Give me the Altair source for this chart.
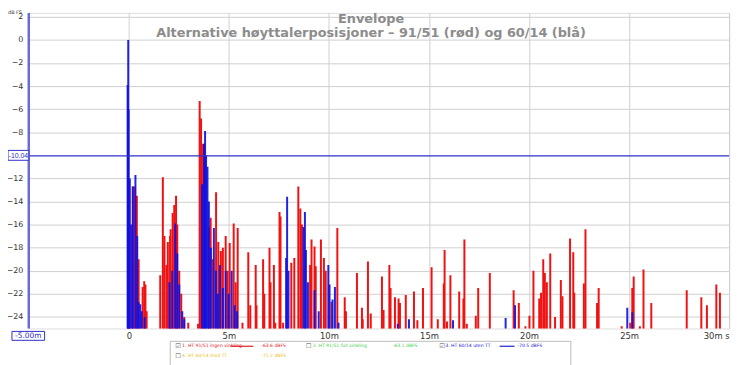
import altair as alt
import pandas as pd

# ---- data (time in ms, level in dB FS) ----
red_t = [-0.02, 0.05, 0.20, 0.30, 0.40, 0.49, 0.69, 0.77, 0.83, 0.89,
         1.57, 1.70, 1.78, 1.88, 1.95, 2.06, 2.09, 2.19, 2.27, 2.36, 2.42, 2.52, 2.62, 2.77, 2.97,
         3.46, 3.54, 3.61, 3.71, 4.00, 4.09, 4.20, 4.36, 4.47, 4.60, 4.70, 4.84, 4.94, 5.04, 5.24,
         5.34, 5.44, 5.68, 5.97, 6.07, 6.34, 6.38, 6.71, 6.77, 7.03, 7.08, 7.25, 7.32, 7.53, 7.58,
         7.71, 8.12, 8.27, 8.47, 8.57, 8.65, 9.06, 9.13, 9.28, 9.34, 9.60, 9.75, 9.84, 10.13, 10.42,
         10.79, 10.85, 11.40, 11.65, 11.69, 11.95, 12.09, 12.65, 12.73, 13.02, 13.08, 13.30, 13.48,
         13.55, 13.84, 14.25, 14.42, 14.70, 15.13, 15.44, 15.74, 15.78, 15.90, 16.07, 16.51, 16.72,
         16.77, 16.89, 17.34, 17.46, 18.04, 19.23, 19.49, 19.82, 20.02, 20.22, 20.51, 20.60, 20.71,
         20.79, 20.89, 21.06, 21.30, 21.59, 21.67, 22.05, 22.21, 22.26, 22.74, 22.82, 23.40, 23.48,
         24.63, 25.06, 25.16, 25.23, 25.54, 25.72, 26.11, 27.88, 28.61, 28.89, 29.36, 29.54]
red_db = [-12.5, -16.0, -12.7, -12.7, -13.5, -19.0, -21.4, -20.9, -21.2, -23.5,
          -20.4, -11.9, -17.0, -19.5, -17.5, -17.0, -16.4, -15.0, -14.3, -13.5, -16.0, -20.0, -22.0, -24.0, -24.5,
          -24.6, -5.3, -6.8, -9.0, -16.2, -15.4, -19.0, -13.2, -17.5, -18.3, -18.0, -17.0, -20.0, -17.6, -15.9,
          -21.0, -16.3, -24.5, -18.4, -23.0, -19.5, -23.0, -19.0, -22.0, -18.0, -21.0, -19.5, -24.5, -14.9, -15.3,
          -24.5, -19.3, -18.9, -12.7, -14.6, -16.0, -19.5, -17.3, -17.9, -19.6, -17.3, -18.9, -20.0, -22.7, -16.3,
          -22.3, -23.5, -20.2, -23.2, -24.2, -19.2, -23.7, -20.5, -23.4, -19.5, -21.5, -22.3, -22.4,
          -22.8, -22.1, -21.8, -24.3, -21.5, -19.7, -24.2, -21.1, -18.2, -24.4, -20.4, -21.8, -22.4,
          -17.3, -24.6, -23.9, -21.5, -20.2, -21.7, -22.8, -24.8, -23.9, -20.0, -22.4, -21.9, -19.0,
          -20.2, -21.0, -18.5, -24.0, -20.8, -22.2, -17.2, -18.4, -21.9, -21.1, -16.4, -22.8, -21.5,
          -24.8, -24.5, -21.5, -20.5, -24.8, -19.9, -22.8, -21.7, -22.3, -23.0, -21.2, -21.9]

blue_t = [-0.06, -0.03, -0.01, 0.05, 0.15, 0.20, 0.33, 0.42, 0.49, 0.57, 0.64, 0.79,
          2.03, 2.17, 2.32, 2.42, 2.52, 2.67, 2.77,
          3.66, 3.76, 3.81, 3.86, 3.93, 4.00, 4.10, 4.25, 4.35, 4.45, 4.55, 4.70, 4.84, 4.99,
          5.14, 5.29, 5.41, 7.86, 7.91, 7.98, 8.73, 8.80, 8.85, 8.95, 9.28, 9.49, 9.97, 10.03,
          10.18, 10.30, 10.48, 13.44, 14.00, 16.20, 18.83, 19.30, 24.91, 25.16]
blue_db = [-3.9, 0.0, -6.0, -12.0, -16.0, -12.7, -11.7, -17.0, -22.7, -22.9, -23.5, -24.0,
           -21.0, -20.0, -15.9, -18.5, -21.2, -23.5, -24.2,
           -12.5, -9.0, -7.9, -10.0, -11.0, -14.0, -18.0, -16.3, -20.0, -22.0, -19.5, -21.5, -20.0, -22.0,
           -20.0, -23.0, -23.5, -18.9, -13.6, -20.0, -16.2, -14.9, -18.2, -21.0, -21.7, -23.5, -19.5, -21.2,
           -22.5, -21.4, -24.5, -24.6, -24.2, -24.3, -24.1, -23.0, -23.2, -23.6]

x_ticks = [0, 5, 10, 15, 20, 25, 30]
y_ticks = [2, 0, -2, -4, -6, -8, -12, -14, -16, -18, -20, -22, -24]
cursor_level = -10.04
cursor_time = -5.0
title_text = "Envelope"
subtitle_text = "Alternative høyttalerposisjoner – 91/51 (rød) og 60/14 (blå)"

X_DOMAIN = [-5, 30]
Y_DOMAIN = [-25, 2.34]
FONT = "DejaVu Sans"

red_df = pd.DataFrame({"t": red_t, "db": red_db})
red_df["base"] = -26
blue_df = pd.DataFrame({"t": blue_t, "db": blue_db})
blue_df["base"] = -26

xs = alt.Scale(domain=X_DOMAIN, nice=False, zero=False)
ys = alt.Scale(domain=Y_DOMAIN, nice=False, zero=False)

x_axis = alt.Axis(values=x_ticks, title=None, grid=True, gridColor="#cfcfcf", domain=False,
                  ticks=False, labelPadding=3, labelFontSize=8.5, labelColor="#333", labelFont=FONT,
                  labelOverlap=False,
                  labelExpr="datum.value == 0 ? '0' : (datum.value == 30 ? '30m s' : datum.value + 'm')")
y_axis = alt.Axis(values=y_ticks, title=None, grid=True, gridColor="#cfcfcf", domain=False,
                  ticks=False, labelPadding=6, labelFontSize=8, labelColor="#333", labelFont=FONT,
                  labelOverlap=False, labelBound=False)

red = alt.Chart(red_df).mark_rule(color="#f01212", strokeWidth=2, clip=True).encode(
    x=alt.X("t:Q", scale=xs, axis=x_axis),
    y=alt.Y("db:Q", scale=ys, axis=y_axis),
    y2="base:Q",
)
blue = alt.Chart(blue_df).mark_rule(color="#1010e0", strokeWidth=2, clip=True, opacity=0.92).encode(
    x=alt.X("t:Q", scale=xs, axis=x_axis),
    y=alt.Y("db:Q", scale=ys, axis=y_axis),
    y2="base:Q",
)

one = pd.DataFrame({"k": [0]})

hline = alt.Chart(pd.DataFrame({"t": [cursor_level]})).mark_rule(color="#3030c8", strokeWidth=1.3).encode(
    y=alt.Y("t:Q", scale=ys, axis=y_axis))
vline = alt.Chart(pd.DataFrame({"t": [cursor_time]})).mark_rule(color="#6a6ad8", strokeWidth=2.5).encode(
    x=alt.X("t:Q", scale=xs, axis=x_axis))


def txt(s, x, y, size=9, color="#333", weight="normal", align="left", baseline="middle", font=FONT):
    return alt.Chart(one).mark_text(text=s, fontSize=size, color=color, fontWeight=weight,
                                    align=align, baseline=baseline, font=font).encode(
        x=alt.value(x), y=alt.value(y))


def box(x1, x2, y1, y2, stroke="#3030c8", fill="white", sw=1):
    return alt.Chart(one).mark_rect(fill=fill, stroke=stroke, strokeWidth=sw).encode(
        x=alt.value(x1), x2=alt.value(x2), y=alt.value(y1), y2=alt.value(y2))


def seg(x1, x2, y, color):
    return alt.Chart(one).mark_rule(color=color, strokeWidth=1.2).encode(
        x=alt.value(x1), x2=alt.value(x2), y=alt.value(y))


LEG = 4.6
R1, R2 = 337, 347
layers = [red, blue, hline, vline,
          txt(title_text, 346, 6, size=13, color="#8c8c8c", weight="bold", align="center"),
          txt(subtitle_text, 346, 20, size=13, color="#8c8c8c", weight="bold", align="center"),
          txt("dB FS", -21, -3, size=5, color="#333", baseline="top"),
          box(-21, 0, 139, 149),
          txt("-10.04", -10.5, 144.5, size=7, color="#3030c8", align="center", font="Liberation Sans"),
          box(-17, 16, 322, 331),
          txt("-5.00m", -0.5, 327, size=7.5, color="#3030c8", align="center"),
          box(143, 548, 332, 357, stroke="#bbbbbb"),
          txt("☑", 148, R1, size=6.5, color="#555"),
          txt("1. HT 91/51 ingen vinkling", 155, R1, size=LEG, color="#e02020"),
          seg(204, 227, R1, "#e02020"),
          txt("-63.6 dBFS", 235, R1, size=LEG, color="#e02020"),
          txt("☐", 280, R1, size=6.5, color="#555"),
          txt("2. HT 91/51 full vinkling", 287, R1, size=LEG, color="#40d040"),
          txt("-63.1 dBFS", 368, R1, size=LEG, color="#40d040"),
          txt("☑", 415, R1, size=6.5, color="#555"),
          txt("3. HT 60/14 uten TT", 421, R1, size=LEG, color="#2020d0"),
          seg(476, 491, R1, "#2020d0"),
          txt("-70.5 dBFS", 494, R1, size=LEG, color="#2020d0"),
          txt("☐", 148, R2, size=6.5, color="#555"),
          txt("4. HT 60/14 med TT", 155, R2, size=LEG, color="#e8c020"),
          txt("-71.2 dBFS", 235, R2, size=LEG, color="#e8c020"),
          ]

chart = alt.layer(*layers).properties(
    width=708, height=319,
    padding={"left": 21, "top": 3, "right": 13, "bottom": 35},
    autosize=alt.AutoSizeParams(type="none"),
).configure_view(stroke="#a8a8a8", strokeWidth=1.5, fill="white").configure(background="white")

chart.save("out.html", embed_options={"renderer": "svg", "actions": False})
